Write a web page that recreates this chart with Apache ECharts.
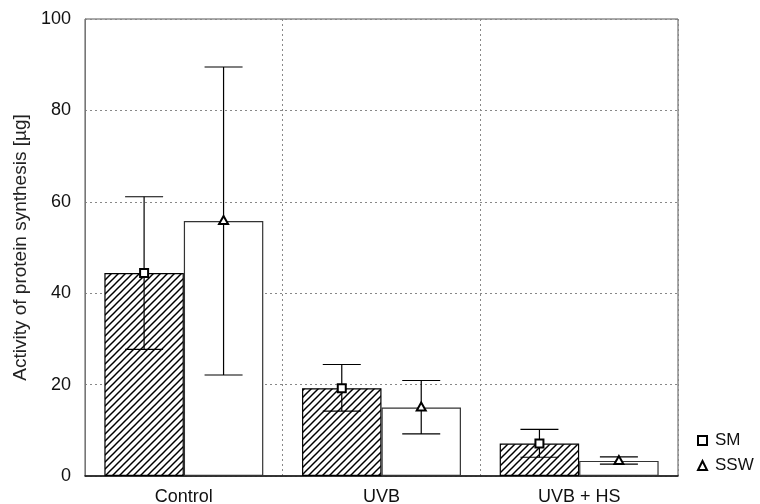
<!DOCTYPE html>
<html><head><meta charset="utf-8">
<script src="https://cdn.jsdelivr.net/npm/echarts@6/dist/echarts.min.js"></script>
<style>html,body{margin:0;padding:0;background:#fff}#c{width:760px;height:504px}</style>
</head><body><div id="c"></div>
<script>
const categories = ['Control', 'UVB', 'UVB + HS'];
const smMean = [44.4, 19.2, 7.1];
const smLow = [27.7, 14.2, 4.1];
const smHigh = [61.1, 24.4, 10.2];
const sswMean = [55.8, 15.0, 3.3];
const sswLow = [22.1, 9.2, 2.6];
const sswHigh = [89.5, 20.9, 4.2];
const yTicks = [0, 20, 40, 60, 80, 100];

const FONT = '"Liberation Sans", Arial, sans-serif';
const GAP = 0.196;

// hatch pattern
const tile = document.createElement('canvas');
tile.width = 7; tile.height = 7;
const g = tile.getContext('2d');
g.fillStyle = '#fff'; g.fillRect(0, 0, 7, 7);
g.strokeStyle = '#000'; g.lineWidth = 1.5;
[[-1, 8, 8, -1], [-1, 1, 1, -1], [6, 8, 8, 6]].forEach(([a, b, c, d]) => {
  g.beginPath(); g.moveTo(a, b); g.lineTo(c, d); g.stroke();
});

function errData(mean, lo, hi) {
  return mean.map((m, i) => [i, m, lo[i], hi[i]]);
}
function makeRender(side, shape) {
  return function (params, api) {
    const i = api.value(0);
    const c = api.coord([i, api.value(1)]);
    const catW = api.size([1, 0])[0];
    const barW = catW * (1 - GAP) / 2;
    const x = c[0] + side * barW / 2;
    const yLo = api.coord([i, api.value(2)])[1];
    const yHi = api.coord([i, api.value(3)])[1];
    const cap = 19;
    const ls = { stroke: '#000', lineWidth: 1.2 };
    const children = [
      { type: 'line', shape: { x1: x, y1: yLo, x2: x, y2: yHi }, style: ls },
      { type: 'line', shape: { x1: x - cap, y1: yLo, x2: x + cap, y2: yLo }, style: ls },
      { type: 'line', shape: { x1: x - cap, y1: yHi, x2: x + cap, y2: yHi }, style: ls }
    ];
    const ms = { fill: '#fff', stroke: '#000', lineWidth: 2 };
    if (shape === 'rect') {
      children.push({ type: 'rect', shape: { x: x - 4, y: c[1] - 4, width: 8, height: 8 }, style: ms });
    } else {
      children.push({ type: 'polygon', shape: { points: [[x, c[1] - 5], [x - 4.5, c[1] + 3], [x + 4.5, c[1] + 3]] }, style: ms });
    }
    return { type: 'group', children };
  };
}

const chart = echarts.init(document.getElementById('c'), null, { renderer: 'canvas' });
chart.setOption({
  animation: false,
  backgroundColor: '#fff',
  textStyle: { fontFamily: FONT },
  grid: { left: 85, right: 82, top: 19, bottom: 28, show: true, borderColor: '#555', borderWidth: 1,
    containLabel: false, outerBoundsMode: 'none' },
  legend: {
    orient: 'vertical', left: 692, top: 427, itemGap: 8, padding: 5,
    itemWidth: 9, itemHeight: 9,
    textStyle: { fontSize: 17, color: '#111', fontFamily: FONT, padding: [0, 0, 0, 3] },
    data: [
      { name: 'SM', icon: 'rect', itemStyle: { color: '#fff', borderColor: '#000', borderWidth: 2 } },
      { name: 'SSW', icon: 'triangle', itemStyle: { color: '#fff', borderColor: '#000', borderWidth: 2 } }
    ]
  },
  xAxis: {
    type: 'category', data: categories,
    axisLine: { lineStyle: { color: '#111', width: 1.5 } },
    axisTick: { show: false },
    axisLabel: { fontSize: 18, color: '#111', margin: 12, fontFamily: FONT },
    splitLine: { show: true, lineStyle: { color: '#888', type: [2, 3], width: 1 } }
  },
  yAxis: {
    type: 'value', min: 0, max: 100, interval: 20,
    name: 'Activity of protein synthesis [µg]', nameLocation: 'middle', nameGap: 52,
    nameTextStyle: { fontSize: 19, color: '#222', fontFamily: FONT },
    axisLine: { show: true, lineStyle: { color: '#777' } },
    axisTick: { show: false },
    axisLabel: { fontSize: 18, color: '#111', margin: 14, fontFamily: FONT,
      customValues: yTicks },
    splitLine: { show: true, lineStyle: { color: '#888', type: [2, 3], width: 1 } }
  },
  series: [
    { name: 'SMbar', type: 'bar', data: smMean, barGap: '0%', barCategoryGap: (GAP * 100) + '%',
      itemStyle: { color: { image: tile, repeat: 'repeat' }, borderColor: '#000', borderWidth: 1.2 }, z: 2 },
    { name: 'SSWbar', type: 'bar', data: sswMean, barGap: '0%', barCategoryGap: (GAP * 100) + '%',
      itemStyle: { color: '#fff', borderColor: '#333', borderWidth: 1.2 }, z: 2 },
    { name: 'SM', type: 'custom', data: errData(smMean, smLow, smHigh), renderItem: makeRender(-1, 'rect'),
      encode: { x: 0, y: [1, 2, 3] }, itemStyle: { color: '#fff', borderColor: '#000' }, z: 5 },
    { name: 'SSW', type: 'custom', data: errData(sswMean, sswLow, sswHigh), renderItem: makeRender(1, 'tri'),
      encode: { x: 0, y: [1, 2, 3] }, itemStyle: { color: '#fff', borderColor: '#000' }, z: 5 }
  ]
});
</script></body></html>
